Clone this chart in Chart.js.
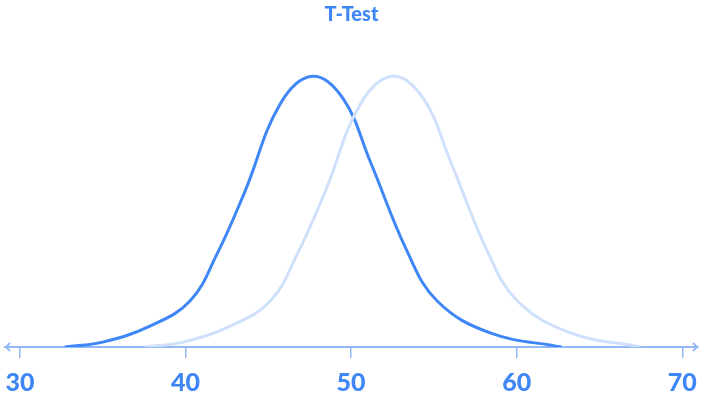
<!DOCTYPE html>
<html>
<head>
<meta charset="utf-8">
<script src="https://cdn.jsdelivr.net/npm/chart.js@4/dist/chart.umd.min.js"></script>
<style>
html,body{margin:0;padding:0;background:#fff;}
#wrap{width:704px;height:394px;position:relative;}
</style>
</head>
<body>
<div id="wrap"><canvas id="c" width="704" height="394"></canvas></div>
<script>
const tickValues = [30, 40, 50, 60, 70];
const groupA_x = [32.7, 35.0, 37.85, 40.27, 41.9, 43.6, 45.71, 47.64, 49.5, 51.15, 53.38, 55.2, 58.4, 62.7];
const groupA_y = [0, 1.8, 7.7, 17, 34.3, 57.6, 89.7, 100, 91.9, 68.6, 35.4, 17, 5.2, 0];
const groupB_x = [37.55, 39.85, 42.7, 45.12, 46.75, 48.45, 50.56, 52.49, 54.35, 56.0, 58.23, 60.05, 63.25, 67.5];
const groupB_y = [0, 1.8, 7.7, 17, 34.3, 57.6, 89.7, 100, 91.9, 68.6, 35.4, 17, 5.2, 0];

const ptsA = groupA_x.map((x, i) => ({x, y: groupA_y[i]}));
const ptsB = groupB_x.map((x, i) => ({x, y: groupB_y[i]}));

const axisColor = '#93b9f8';
const arrowPlugin = {
  id: 'arrows',
  afterDraw(chart) {
    const ctx = chart.ctx;
    const a = chart.chartArea;
    const y = chart.scales.x.top;
    ctx.save();
    ctx.strokeStyle = axisColor;
    ctx.lineWidth = 2;
    ctx.beginPath();
    ctx.moveTo(a.left + 5, y - 4); ctx.lineTo(a.left + 1, y); ctx.lineTo(a.left + 5, y + 4);
    ctx.moveTo(a.right - 5, y - 4); ctx.lineTo(a.right - 1, y); ctx.lineTo(a.right - 5, y + 4);
    ctx.stroke();
    ctx.restore();
  }
};

new Chart(document.getElementById('c'), {
  type: 'line',
  data: {
    datasets: [
      {data: ptsB, borderColor: '#cfe0fb', borderWidth: 3, pointRadius: 0, tension: 0.4, fill: false},
      {data: ptsA, borderColor: '#3f86f6', borderWidth: 3, pointRadius: 0, tension: 0.4, fill: false}
    ]
  },
  plugins: [arrowPlugin],
  options: {
    responsive: false,
    animation: false,
    layout: {padding: {left: 5, right: 6, top: 0, bottom: -14}},
    plugins: {
      legend: {display: false},
      tooltip: {enabled: false},
      title: {
        display: true, text: 'T-Test', color: '#3f86f6',
        font: {family: 'Lato', size: 20, weight: '900'},
        padding: {top: 3, bottom: 10}
      }
    },
    scales: {
      x: {
        type: 'linear', min: 29.1, max: 70.95,
        afterBuildTicks(scale) { scale.ticks = tickValues.map(v => ({value: v})); },
        afterFit(scale) { scale.paddingLeft = 0; scale.paddingRight = 0; },
        grid: {display: true, drawOnChartArea: false, drawTicks: true, tickLength: 11, color: axisColor, lineWidth: 1.5},
        border: {display: true, color: axisColor, width: 2},
        ticks: {color: '#3f86f6', font: {family: 'Lato', size: 25, weight: '900'}, padding: 10, maxRotation: 0, autoSkip: false}
      },
      y: {
        display: false, min: 0, max: 114.5
      }
    }
  }
});
</script>
</body>
</html>
